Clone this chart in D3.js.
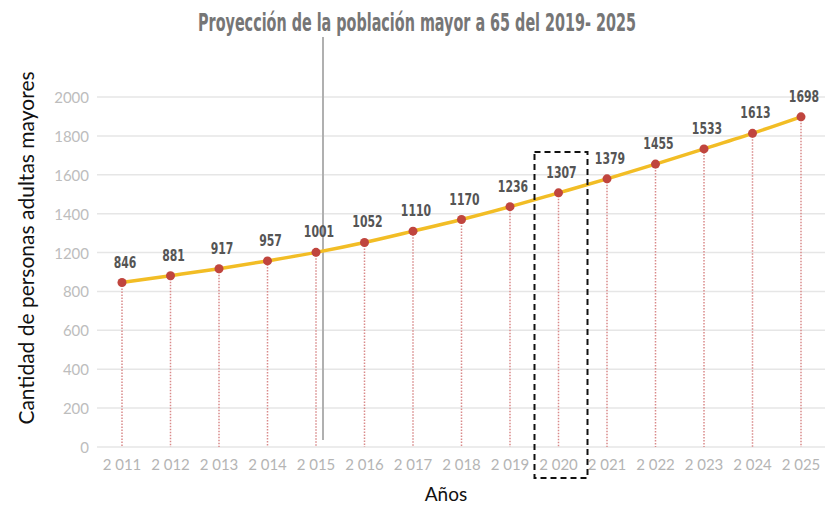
<!DOCTYPE html>
<html>
<head>
<meta charset="utf-8">
<script src="https://cdn.jsdelivr.net/npm/d3@7"></script>
<style>
  body { margin: 0; background: #fff; }
  svg { display: block; }
</style>
</head>
<body>
<div id="container"><svg width="827" height="505"></svg></div>
<script>
// years and projected values
const years = ["2011","2012","2013","2014","2015","2016","2017","2018","2019","2020","2021","2022","2023","2024","2025"];
const values = [846, 881, 917, 957, 1001, 1052, 1110, 1170, 1236, 1307, 1379, 1455, 1533, 1613, 1698];
// year labels as printed (with the gap after the first digit)
const yearLabels = ["2 011","2 012","2 013","2 014","2 015","2 016","2 017","2 018","2 019","2 020","2 021","2 022","2 023","2 024","2 025"];
// gridline values and the labels printed beside them (the original skips 1000)
const gridValues = [0, 200, 400, 600, 800, 1000, 1200, 1400, 1600, 1800];
const gridLabels = ["0","200","400","600","800","1200","1400","1600","1800","2000"];

const titleText = "Proyección de la población mayor a 65 del 2019- 2025";
const yTitle = "Cantidad de personas adultas mayores";
const xTitle = "Años";
const highlightYear = "2020";

const svg = d3.select("svg");
const bold = "'DejaVu Sans', sans-serif";
const geo = "Lato, 'Noto Sans', sans-serif";

// scales
const x = d3.scalePoint().domain(years).range([122, 801]);
const y = d3.scaleLinear().domain([0, 1800]).range([447, 97]);

// gridlines
svg.append("g").selectAll("line")
  .data(gridValues)
  .enter().append("line")
  .attr("x1", 97).attr("x2", 825)
  .attr("y1", d => y(d)).attr("y2", d => y(d))
  .style("stroke", "#e6e6e6")
  .style("stroke-width", 1.5);

// y tick labels
svg.append("g").selectAll("text")
  .data(gridValues)
  .enter().append("text")
  .attr("x", 89)
  .attr("y", d => y(d) + 6)
  .attr("text-anchor", "end")
  .style("font-family", geo)
  .style("font-size", "15px")
  .style("fill", "#bdbdbd")
  .text((d, i) => gridLabels[i]);

// x tick labels
svg.append("g").selectAll("text")
  .data(years)
  .enter().append("text")
  .attr("x", d => x(d))
  .attr("y", 470)
  .attr("text-anchor", "middle")
  .style("font-family", geo)
  .style("font-size", "15px")
  .style("fill", "#b5b5b5")
  .text((d, i) => yearLabels[i]);

// the stray vertical line under the title
svg.append("line")
  .attr("x1", 323).attr("x2", 323)
  .attr("y1", 37).attr("y2", 440)
  .style("stroke", "#b0b0b0")
  .style("stroke-width", 2);

// dotted drop lines
svg.append("g").selectAll("line")
  .data(values)
  .enter().append("line")
  .attr("x1", (d, i) => x(years[i]))
  .attr("x2", (d, i) => x(years[i]))
  .attr("y1", d => y(d))
  .attr("y2", y(0))
  .style("stroke", "#d98a8a")
  .style("stroke-width", 1.5)
  .style("stroke-dasharray", "1.5,1.5");

// the line
const line = d3.line()
  .x((d, i) => x(years[i]))
  .y(d => y(d))
  .curve(d3.curveMonotoneX);

svg.append("path")
  .datum(values)
  .attr("d", line)
  .style("fill", "none")
  .style("stroke", "#f2bd25")
  .style("stroke-width", 3.5);

// points
svg.append("g").selectAll("circle")
  .data(values)
  .enter().append("circle")
  .attr("cx", (d, i) => x(years[i]))
  .attr("cy", d => y(d))
  .attr("r", 4.5)
  .style("fill", "#c0453e");

// value labels, squeezed to look like the condensed face of the original
svg.append("g").selectAll("text")
  .data(values)
  .enter().append("text")
  .attr("transform", (d, i) => `translate(${x(years[i]) + 3},${y(d) - 15}) scale(0.68,1)`)
  .attr("text-anchor", "middle")
  .style("font-family", bold)
  .style("font-weight", "bold")
  .style("font-size", "16px")
  .style("fill", "#555")
  .text(d => d);

// dashed box around 2020
const hx = x(highlightYear);
svg.append("rect")
  .attr("x", hx - 24).attr("y", 152)
  .attr("width", 53).attr("height", 326)
  .style("fill", "none")
  .style("stroke", "#111")
  .style("stroke-width", 2)
  .style("stroke-dasharray", "6,4");

// title
svg.append("text")
  .attr("transform", "translate(417,31) scale(0.575,1)")
  .attr("text-anchor", "middle")
  .style("font-family", bold)
  .style("font-weight", "bold")
  .style("font-size", "25px")
  .style("fill", "#767676")
  .text(titleText);

// axis titles
svg.append("text")
  .attr("transform", "translate(34,248) rotate(-90)")
  .attr("text-anchor", "middle")
  .style("font-family", geo)
  .style("font-size", "21px")
  .style("fill", "#111")
  .text(yTitle);

svg.append("text")
  .attr("x", 446).attr("y", 501)
  .attr("text-anchor", "middle")
  .style("font-family", geo)
  .style("font-size", "19px")
  .style("fill", "#111")
  .text(xTitle);
</script>
</body>
</html>
